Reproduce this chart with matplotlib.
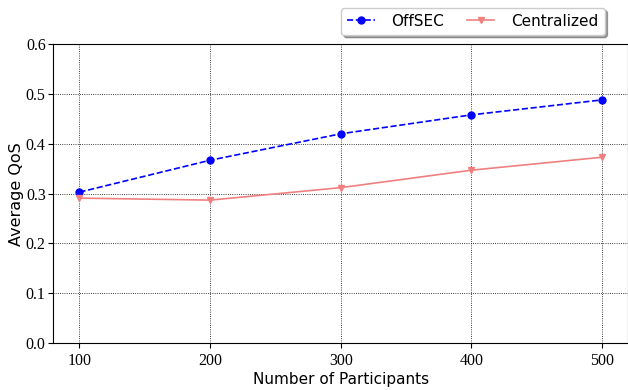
import matplotlib
matplotlib.use("Agg")
import matplotlib.pyplot as plt

participants = [100, 200, 300, 400, 500]
offsec_qos = [0.303, 0.367, 0.420, 0.458, 0.488]
central_qos = [0.291, 0.287, 0.312, 0.347, 0.373]
y_ticks = [0.0, 0.1, 0.2, 0.3, 0.4, 0.5, 0.6]

fig = plt.figure(figsize=(6.28, 3.9), dpi=100)
ax = fig.add_axes([0.085, 0.12, 0.915, 0.767])

ax.plot(participants, offsec_qos, color="blue", linestyle="--", marker="o",
        markersize=5, linewidth=1.2, label="OffSEC")
ax.plot(participants, central_qos, color="#F08080", linestyle="-", marker="v",
        markersize=4.5, linewidth=1.2, label="Centralized")

ax.set_xlim(80, 520)
ax.set_ylim(0, 0.6)
ax.set_xticks(participants)
ax.set_yticks(y_ticks)
ax.set_yticklabels([f"{t:.1f}" for t in y_ticks])
for lbl in ax.get_xticklabels() + ax.get_yticklabels():
    lbl.set_fontfamily("Liberation Serif")
    lbl.set_fontsize(11.5)
ax.tick_params(axis="y", pad=2)

ax.grid(True, color="black", linestyle=":", linewidth=0.6)
ax.set_xlabel("Number of Participants", fontsize=11, labelpad=2)
ax.set_ylabel("Average QoS", fontsize=11.5, labelpad=1)

fig.legend(loc="upper right", bbox_to_anchor=(0.975, 1.0), ncol=2,
           shadow=True, fontsize=11, handlelength=1.8, handletextpad=1.1,
           columnspacing=1.5)

plt.savefig("out.png", dpi=100)
plt.close()
